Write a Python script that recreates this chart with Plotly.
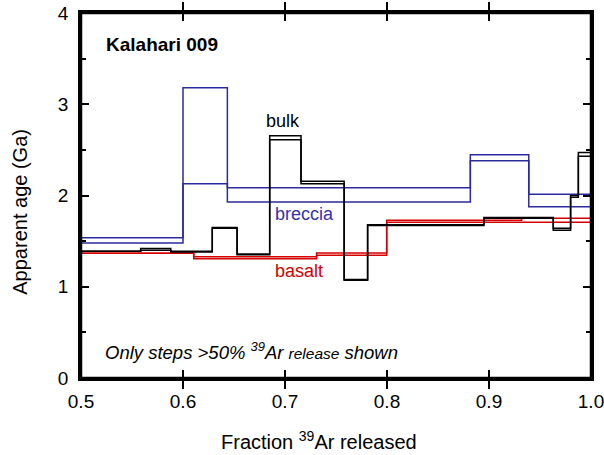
import plotly.graph_objects as go

# Step edges (fraction 39Ar released) and apparent ages (Ga)
bulk_edges = [0.5, 0.5585, 0.588, 0.614, 0.6287, 0.653, 0.685, 0.7157, 0.758, 0.781, 0.895, 0.963, 0.98, 0.9876, 1.0]
bulk_hi = [1.39, 1.42, 1.39, 1.39, 1.65, 1.36, 2.655, 2.155, 1.08, 1.68, 1.76, 1.64, 2.0, 2.47]
bulk_lo = [1.39, 1.40, 1.38, 1.38, 1.64, 1.35, 2.61, 2.13, 1.07, 1.67, 1.75, 1.62, 1.98, 2.43]

breccia_edges = [0.5, 0.6, 0.6435, 0.8817, 0.939, 1.0]
breccia_hi = [1.537, 3.18, 2.085, 2.447, 2.013]
breccia_lo = [1.48, 2.13, 1.93, 2.38, 1.877]

basalt_edges = [0.5, 0.6105, 0.731, 0.7997, 0.932, 1.0]
basalt_hi = [1.366, 1.33, 1.37, 1.728, 1.75]
basalt_lo = [1.366, 1.307, 1.345, 1.708, 1.706]

x_ticks = [0.5, 0.6, 0.7, 0.8, 0.9, 1.0]
x_ticklabels = ["0.5", "0.6", "0.7", "0.8", "0.9", "1.0"]
y_ticks = [0, 1, 2, 3, 4]
y_ticklabels = ["0", "1", "2", "3", "4"]

BLACK = "#000000"
BLUE = "#2b2b9e"
RED = "#d40000"

fig = go.Figure()

def add_step(edges, vals, color, width):
    fig.add_trace(go.Scatter(x=edges, y=vals + [vals[-1]], mode="lines",
                             line=dict(color=color, width=width, shape="hv"),
                             showlegend=False, hoverinfo="skip"))

add_step(basalt_edges, basalt_hi, RED, 1.5)
add_step(basalt_edges, basalt_lo, RED, 1.5)
add_step(breccia_edges, breccia_hi, BLUE, 1.5)
add_step(breccia_edges, breccia_lo, BLUE, 1.5)
add_step(bulk_edges, bulk_hi, BLACK, 1.5)
add_step(bulk_edges, bulk_lo, BLACK, 1.5)

# empty trace so the right-hand tick axis is drawn
fig.add_trace(go.Scatter(x=[], y=[], yaxis="y2", showlegend=False, hoverinfo="skip"))

FONT = "Liberation Sans, Arial, Helvetica, sans-serif"

axis_common = dict(showline=True, linecolor="black", linewidth=2.5, mirror="allticks",
                   ticks="inside", ticklen=8, tickwidth=2, tickcolor="black",
                   showgrid=False, zeroline=False, automargin=False,
                   ticklabeloverflow="allow",
                   tickfont=dict(family=FONT, size=19, color="black"))

fig.update_xaxes(range=[0.5, 1.0], tickvals=x_ticks, ticktext=x_ticklabels,
                 ticklabelstandoff=4, **axis_common)
fig.update_yaxes(range=[0, 4], tickvals=y_ticks, ticktext=y_ticklabels,
                 ticklabelstandoff=6,
                 minor=dict(ticks="inside", ticklen=5, tickwidth=2, dtick=0.5, tickcolor="black"),
                 **axis_common)

fig.update_layout(yaxis2=dict(overlaying="y", side="right", range=[0, 4],
                              tickvals=y_ticks, showticklabels=False,
                              ticks="inside", ticklen=8, tickwidth=2, tickcolor="black",
                              minor=dict(ticks="inside", ticklen=5, tickwidth=2, dtick=0.5,
                                         tickcolor="black"),
                              showgrid=False, zeroline=False, showline=False,
                              automargin=False))

# explicit frame around the plot area
fig.add_shape(type="rect", xref="paper", yref="paper", x0=0, y0=0, x1=1, y1=1,
              line=dict(color="black", width=2.5), layer="above")

annots = [
    dict(x=0.5225, y=3.65, text="<b>Kalahari 009</b>", color="black", size=19, xanchor="left"),
    dict(x=0.698, y=2.82, text="bulk", color="black", size=18, xanchor="center"),
    dict(x=0.7196, y=1.80, text="breccia", color="#3333aa", size=18, xanchor="center"),
    dict(x=0.7137, y=1.17, text="basalt", color=RED, size=18, xanchor="center"),
    dict(x=0.5216, y=0.30, text="<i>Only steps &gt;50% <sup>39</sup>Ar <span style='font-size:15.5px'>release</span> shown</i>",
         color="black", size=18.5, xanchor="left"),
]
for a in annots:
    fig.add_annotation(x=a["x"], y=a["y"], text=a["text"], showarrow=False,
                       xanchor=a["xanchor"], yanchor="middle",
                       font=dict(family=FONT, size=a["size"], color=a["color"]))

# axis titles
fig.add_annotation(xref="paper", yref="paper", x=0.467, y=-0.17,
                   text="Fraction <sup>39</sup>Ar released", showarrow=False,
                   xanchor="center", yanchor="middle",
                   font=dict(family=FONT, size=20, color="black"))
fig.add_annotation(xref="paper", yref="paper", x=-0.12, y=0.455,
                   text="Apparent age (Ga)", showarrow=False, textangle=-90,
                   xanchor="center", yanchor="middle",
                   font=dict(family=FONT, size=20, color="black"))

fig.update_layout(width=604, height=455,
                  margin=dict(l=81, r=13, t=13, b=77),
                  plot_bgcolor="white", paper_bgcolor="white",
                  showlegend=False)

fig.write_html("out.html", config={"displayModeBar": False},
               post_script="document.body.style.margin='0';document.body.style.overflow='hidden';")
